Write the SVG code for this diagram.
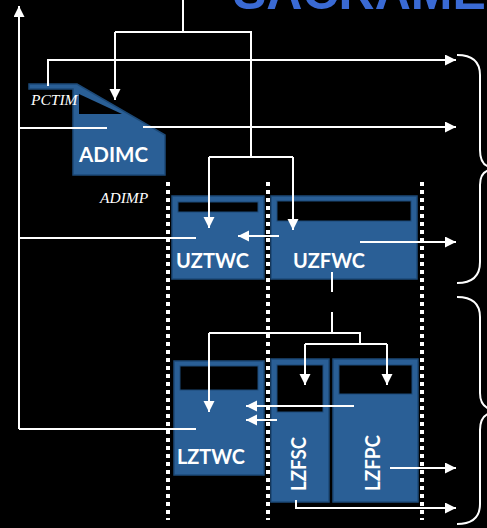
<svg xmlns="http://www.w3.org/2000/svg" width="487" height="528" viewBox="0 0 487 528">
<defs>
<style>
.bg{fill:#000}
.box{fill:#2a5f96;stroke:#1d4a78;stroke-width:1.5}
.hole{fill:#000;stroke:#1d4a78;stroke-width:1}
.lbl{font-family:Lato,"Liberation Sans",sans-serif;font-weight:bold;fill:#fff;font-size:21px}
.ital{font-family:"Liberation Serif",serif;font-style:italic;fill:#fff;font-size:15.5px}
.ln{fill:none;stroke:#fff;stroke-width:2}
.ar{fill:none;stroke:#fff;stroke-width:2;marker-end:url(#ah)}
.dot{fill:none;stroke:#fff;stroke-width:4;stroke-dasharray:4 4}
.brace{fill:none;stroke:#fff;stroke-width:2}
.title{font-family:"Liberation Sans",sans-serif;font-weight:bold;fill:#3a6ad4;font-size:50px}
</style>
<marker id="ah" markerUnits="userSpaceOnUse" markerWidth="12" markerHeight="12" refX="11" refY="5.5" orient="auto">
<path d="M0,0 L11,5.5 L0,11 Z" fill="#fff"/>
</marker>
</defs>
<rect class="bg" x="0" y="0" width="487" height="528"/>
<text class="title" x="233" y="9">SACRAMENTO</text>

<g id="dividers">
<line class="dot" x1="168" y1="182" x2="168" y2="520"/>
<line class="dot" x1="268" y1="182" x2="268" y2="520"/>
<line class="dot" x1="422" y1="182" x2="422" y2="520"/>
</g>

<g id="ADIMC">
<path class="box" d="M29,84 L77,84 L165,135 L165,175 L73,175 L73,89 L29,89 Z"/>
<path fill="#000" d="M79,94 L79,114 L122,114 Z"/>
<text class="lbl" x="79" y="162" textLength="69" lengthAdjust="spacingAndGlyphs">ADIMC</text>
</g>
<text class="ital" x="31" y="105">PCTIM</text>
<text class="ital" x="100" y="203">ADIMP</text>

<g id="UZTWC">
<rect class="box" x="172" y="196" width="92" height="83"/>
<rect class="hole" x="178" y="202" width="80" height="10"/>
<text class="lbl" x="176" y="268" textLength="73" lengthAdjust="spacingAndGlyphs">UZTWC</text>
</g>
<g id="UZFWC">
<rect class="box" x="271" y="196" width="146" height="83"/>
<rect class="hole" x="277" y="201" width="134" height="20"/>
<text class="lbl" x="293" y="268" textLength="72" lengthAdjust="spacingAndGlyphs">UZFWC</text>
</g>
<g id="LZTWC">
<rect class="box" x="174" y="361" width="90" height="114"/>
<rect class="hole" x="180" y="366" width="78" height="24"/>
<text class="lbl" x="177" y="464" textLength="68" lengthAdjust="spacingAndGlyphs">LZTWC</text>
</g>
<g id="LZFSC">
<rect class="box" x="271" y="359" width="58" height="143"/>
<rect class="hole" x="277" y="365" width="46" height="47"/>
<text class="lbl" transform="translate(306,491) rotate(-90)" textLength="54" lengthAdjust="spacingAndGlyphs">LZFSC</text>
</g>
<g id="LZFPC">
<rect class="box" x="333" y="359" width="85" height="143"/>
<rect class="hole" x="339" y="365" width="73" height="29"/>
<text class="lbl" transform="translate(380,491) rotate(-90)" textLength="56" lengthAdjust="spacingAndGlyphs">LZFPC</text>
</g>

<g id="connectors">
<path class="ar" d="M19,429 L19,6"/>
<path class="ln" d="M19,128 L107,128"/>
<path class="ln" d="M19,238 L196,238"/>
<path class="ln" d="M19,429 L196,429"/>
<path class="ln" d="M183,0 L183,32"/>
<path class="ln" d="M115,32 L251,32 L251,157"/>
<path class="ar" d="M115,32 L115,100"/>
<path class="ln" d="M209,157 L293,157"/>
<path class="ar" d="M209,157 L209,228"/>
<path class="ar" d="M293,157 L293,230"/>
<path class="ar" d="M48,86 L48,60 L456,60"/>
<path class="ar" d="M143,127 L456,127"/>
<path class="ar" d="M279,236 L238,236"/>
<path class="ar" d="M360,242 L456,242"/>
<path class="ln" d="M332,272 L332,292 M332,312 L332,333"/>
<path class="ln" d="M209,333 L360,333 L360,344"/>
<path class="ar" d="M209,333 L209,412"/>
<path class="ln" d="M305,344 L387,344"/>
<path class="ar" d="M305,344 L305,385"/>
<path class="ar" d="M387,344 L387,385"/>
<path class="ar" d="M354,406 L246,406"/>
<path class="ar" d="M277,420 L246,420"/>
<path class="ar" d="M390,468 L456,468"/>
<path class="ar" d="M296,500 L296,508 L456,508"/>
</g>

<g id="braces">
<path class="brace" d="M457,55 Q480,55 480,75 L480,150 Q480,165 490,167"/>
<path class="brace" d="M490,170 Q480,172 480,185 L480,262 Q480,283 457,283"/>
<path class="brace" d="M457,297 Q480,297 480,317 L480,393 Q480,406 490,409"/>
<path class="brace" d="M490,413 Q480,416 480,430 L480,504 Q480,524 457,524"/>
</g>
</svg>
